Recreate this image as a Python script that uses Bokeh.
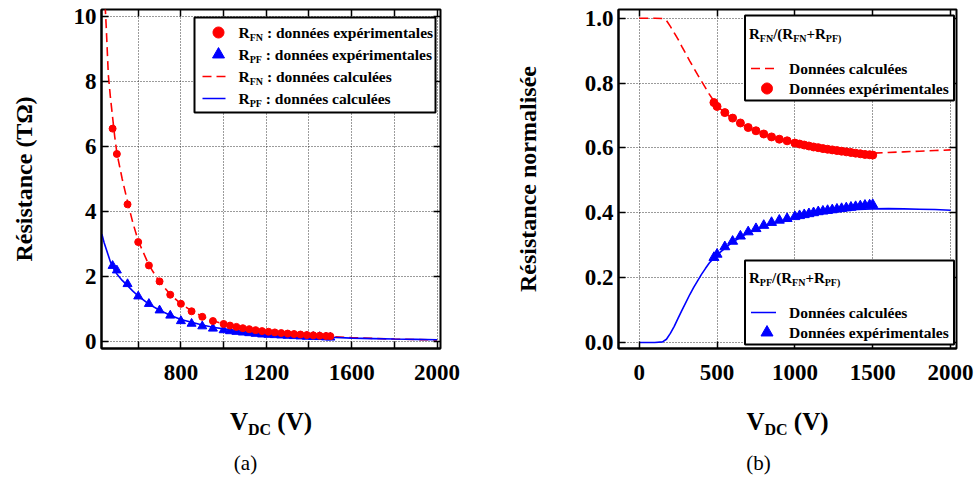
import numpy as np
from bokeh.plotting import figure
from bokeh.layouts import row, column
from bokeh.models import (LinearAxis, FixedTicker, Label, BoxAnnotation,
                          PolyAnnotation, Arrow, Range1d)
from bokeh.embed import file_html
from bokeh.resources import INLINE

# ---------------- data ----------------
# experimental voltages (V)
v_exp = [480, 500, 550, 600, 650, 700, 750, 800, 850, 900, 950, 1000,
         1030, 1060, 1090, 1120, 1150, 1180, 1210, 1240, 1270, 1300, 1330,
         1360, 1390, 1420, 1450, 1480, 1500]
# (a) experimental resistances (TOhm)
rfn_exp = [6.55, 5.77, 4.22, 3.06, 2.34, 1.85, 1.44, 1.16, 0.93, 0.76, 0.63, 0.54,
           0.49, 0.45, 0.41, 0.38, 0.35, 0.32, 0.30, 0.28, 0.26, 0.245, 0.23,
           0.215, 0.20, 0.19, 0.18, 0.17, 0.165]
rpf_exp = [2.33, 2.19, 1.77, 1.39, 1.16, 0.96, 0.80, 0.63, 0.55, 0.47, 0.40, 0.35,
           0.32, 0.30, 0.28, 0.26, 0.24, 0.22, 0.21, 0.20, 0.19, 0.18, 0.17,
           0.16, 0.15, 0.145, 0.14, 0.13, 0.125]
# (a) calculated curves
v_calc_a = [430, 440, 450, 460, 470, 480, 490, 500, 525, 550, 575, 600, 650, 700,
            750, 800, 850, 900, 950, 1000, 1100, 1200, 1300, 1400, 1500, 1600,
            1700, 1800, 1900, 2000]
rfn_calc = [12.5, 11.0, 9.7, 8.2, 7.5, 6.9, 6.3, 5.8, 5.0, 4.3, 3.65, 3.1, 2.35, 1.83,
            1.45, 1.16, 0.94, 0.77, 0.64, 0.54, 0.40, 0.30, 0.235, 0.19, 0.155, 0.12,
            0.095, 0.075, 0.06, 0.05]
rpf_calc = [3.3, 3.05, 2.85, 2.65, 2.45, 2.3, 2.18, 2.08, 1.88, 1.72, 1.55, 1.40, 1.15,
            0.96, 0.81, 0.68, 0.59, 0.51, 0.44, 0.39, 0.31, 0.245, 0.195, 0.16, 0.13,
            0.105, 0.09, 0.075, 0.065, 0.055]
# (b) experimental normalised resistances
nfn_exp = [0.740, 0.728, 0.709, 0.692, 0.677, 0.663, 0.653, 0.643, 0.634, 0.627,
           0.622, 0.615, 0.612, 0.609, 0.606, 0.603, 0.601, 0.598, 0.596, 0.594,
           0.592, 0.590, 0.588, 0.586, 0.584, 0.582, 0.580, 0.579, 0.578]
npf_exp = [0.262, 0.272, 0.295, 0.312, 0.328, 0.341, 0.351, 0.361, 0.370, 0.377,
           0.382, 0.388, 0.391, 0.394, 0.397, 0.400, 0.403, 0.405, 0.407, 0.409,
           0.411, 0.413, 0.415, 0.417, 0.419, 0.421, 0.423, 0.424, 0.425]
# (b) calculated curves
v_calc_b = [0, 50, 100, 150, 175, 200, 225, 250, 275, 300, 325, 350, 375, 400, 425,
            450, 475, 500, 550, 600, 700, 800, 900, 1000, 1100, 1200, 1300, 1400,
            1500, 1600, 1700, 1800, 1900, 2000]
nfn_calc = [1.0, 1.0, 1.0, 0.999, 0.993, 0.975, 0.955, 0.935, 0.912, 0.89, 0.868,
            0.847, 0.826, 0.806, 0.786, 0.766, 0.748, 0.730, 0.708, 0.690, 0.662,
            0.642, 0.627, 0.615, 0.605, 0.597, 0.590, 0.585, 0.584, 0.586, 0.588,
            0.590, 0.592, 0.594]
npf_calc = [0.0, 0.0, 0.0, 0.002, 0.01, 0.028, 0.05, 0.075, 0.1, 0.124, 0.148, 0.17,
            0.19, 0.21, 0.228, 0.245, 0.258, 0.27, 0.29, 0.31, 0.338, 0.358, 0.373,
            0.385, 0.394, 0.401, 0.406, 0.410, 0.412, 0.413, 0.412, 0.411, 0.410, 0.408]

# ticks
xticks_a = [600, 800, 1000, 1200, 1400, 1600, 1800, 2000]
xlabels_a = ["", "800", "", "1200", "", "1600", "", "2000"]
yticks_a = [0, 2, 4, 6, 8, 10]
ylabels_a = ["0", "2", "4", "6", "8", "10"]
xticks_b = [0, 500, 1000, 1500, 2000]
xlabels_b = ["0", "500", "1000", "1500", "2000"]
yticks_b = [0.0, 0.2, 0.4, 0.6, 0.8, 1.0]
ylabels_b = ["0.0", "0.2", "0.4", "0.6", "0.8", "1.0"]

FONT = "Liberation Serif"
RED = "#ff0000"
BLUE = "#0000ff"

# Times/Liberation Serif Bold advance widths (em)
W = {' ': 0.25, '(': 0.333, ')': 0.333, '+': 0.57, '/': 0.278, ':': 0.333,
     'R': 0.722, 'F': 0.611, 'N': 0.722, 'P': 0.611, 'V': 0.722, 'D': 0.722, 'C': 0.722}


def tw(s, size):
    return sum(W.get(c, 0.5) for c in s) * size


def rich(p, x, yc, parts, size=15, sub=10, style="bold"):
    """Text with subscripts; yc is the vertical middle of the main text."""
    for t, is_sub in parts:
        fs = sub if is_sub else size
        lead = len(t) - len(t.lstrip(" "))
        x += lead * W[" "] * fs
        t = t.lstrip(" ")
        yy = yc - 0.3 * size if is_sub else yc
        p.add_layout(Label(x=x, y=yy, x_units="screen", y_units="screen", text=t,
                           text_font=FONT, text_font_size=f"{fs}px",
                           text_font_style=style, text_color="black",
                           text_baseline="middle", text_align="left"))
        x += tw(t, fs)
    return x


def rich_width(parts, size, sub):
    w = 0
    for t, s in parts:
        w += tw(t, sub if s else size)
    return w


def box(p, l, r, t, b):
    p.add_layout(BoxAnnotation(left=l, right=r, top=t, bottom=b,
                               left_units="screen", right_units="screen",
                               top_units="screen", bottom_units="screen",
                               fill_color="white", fill_alpha=1.0,
                               line_color="black", line_width=2, line_alpha=1.0))


def disc(p, cx, cy, r, color):
    t = np.linspace(0, 2 * np.pi, 29)[:-1]
    p.add_layout(PolyAnnotation(xs=list(cx + r * np.cos(t)), ys=list(cy + r * np.sin(t)),
                                xs_units="screen", ys_units="screen",
                                fill_color=color, fill_alpha=1.0,
                                line_color=color, line_alpha=1.0, line_width=1))


def tri(p, cx, cy, s, color):
    h = s * 0.866
    p.add_layout(PolyAnnotation(xs=[cx - s / 2, cx + s / 2, cx],
                                ys=[cy - h / 3, cy - h / 3, cy + 2 * h / 3],
                                xs_units="screen", ys_units="screen",
                                fill_color=color, fill_alpha=1.0,
                                line_color=color, line_alpha=1.0, line_width=1))


def seg(p, x0, x1, y, color, dash="solid"):
    p.add_layout(Arrow(end=None, x_start=x0, y_start=y, x_end=x1, y_end=y,
                       start_units="screen", end_units="screen",
                       line_color=color, line_width=1.6, line_dash=dash))


TOP_H = 408


def make_fig(width, xr, yr, xt, xl, yt, yl, ylabel, mbl, mbr, mbt, mbb, ylab_standoff):
    p = figure(width=width, height=TOP_H, x_range=Range1d(*xr), y_range=Range1d(*yr),
               output_backend="svg", toolbar_location=None,
               min_border_left=mbl, min_border_right=mbr, min_border_top=mbt,
               min_border_bottom=mbb)
    p.outline_line_color = "black"
    p.outline_line_width = 2
    p.outline_line_alpha = 1.0
    xtick = FixedTicker(ticks=xt, minor_ticks=[])
    ytick = FixedTicker(ticks=yt, minor_ticks=[])
    p.xaxis.ticker = xtick
    p.yaxis.ticker = ytick
    p.xaxis.major_label_overrides = dict(zip(xt, xl))
    p.yaxis.major_label_overrides = dict(zip(yt, yl))
    for ax in p.axis:
        ax.axis_line_width = 2
        ax.axis_line_color = "black"
        ax.major_tick_in = 7
        ax.major_tick_out = 0
        ax.major_tick_line_width = 1.5
        ax.major_tick_line_color = "black"
        ax.minor_tick_line_color = None
        ax.major_label_text_font = FONT
        ax.major_label_text_font_size = "23px"
        ax.major_label_text_font_style = "bold"
        ax.major_label_text_color = "black"
    p.xaxis.major_label_standoff = 16
    p.yaxis.major_label_standoff = 5
    p.yaxis.axis_label = ylabel
    p.yaxis.axis_label_text_font = FONT
    p.yaxis.axis_label_text_font_size = "24px"
    p.yaxis.axis_label_text_font_style = "bold"
    p.yaxis.axis_label_text_color = "black"
    p.yaxis.axis_label_standoff = ylab_standoff
    for g in (p.xgrid, p.ygrid):
        g.grid_line_color = "#222222"
        g.grid_line_dash = "1 2"
        g.grid_line_width = 1
        g.grid_line_alpha = 0.9
    for loc, tk, ticks in (("above", xtick, xt), ("right", ytick, yt)):
        ax = LinearAxis(ticker=tk, major_label_text_font_size="0px",
                        major_label_overrides={t: "" for t in ticks},
                        major_label_standoff=0, major_tick_in=7, major_tick_out=0,
                        major_tick_line_width=1.5, minor_tick_line_color=None,
                        axis_line_color=None)
        p.add_layout(ax, loc)
    return p


# ---------------- panel (a) ----------------
p1 = make_fig(490, (428, 2016), (-0.215, 10.215), xticks_a, xlabels_a, yticks_a,
              ylabels_a, "Résistance (TΩ)", 101, 50, 9, TOP_H - 349, 34)
p1.line(v_calc_a, rfn_calc, line_color=RED, line_width=1.6, line_dash="9 5")
p1.line(v_calc_a, rpf_calc, line_color=BLUE, line_width=1.6)
p1.scatter(v_exp, rpf_exp, marker="triangle", size=9, color=BLUE)
p1.scatter(v_exp, rfn_exp, marker="circle", size=7, color=RED)

box(p1, 93, 334, 331, 236)
rows_a = [316, 294, 272, 250]
disc(p1, 117, rows_a[0], 5.5, RED)
tri(p1, 117, rows_a[1], 12, BLUE)
seg(p1, 101, 124, rows_a[2], RED, "9 5")
seg(p1, 101, 124, rows_a[3], BLUE)
rich(p1, 137, rows_a[0], [("R", False), ("FN", True), (" : données expérimentales", False)], size=15.5)
rich(p1, 137, rows_a[1], [("R", False), ("PF", True), (" : données expérimentales", False)], size=15.5)
rich(p1, 137, rows_a[2], [("R", False), ("FN", True), (" : données calculées", False)], size=15.5)
rich(p1, 137, rows_a[3], [("R", False), ("PF", True), (" : données calculées", False)], size=15.5)

# ---------------- panel (b) ----------------
p2 = make_fig(488, (-133, 2038), (-0.0185, 1.027), xticks_b, xlabels_b, yticks_b,
              ylabels_b, "Résistance normalisée", 128, 22, 9, TOP_H - 348, 41)
p2.line(v_calc_b, nfn_calc, line_color=RED, line_width=1.6, line_dash="9 5")
p2.line(v_calc_b, npf_calc, line_color=BLUE, line_width=1.6)
p2.scatter(v_exp, npf_exp, marker="triangle", size=10, color=BLUE)
p2.scatter(v_exp, nfn_exp, marker="circle", size=8, color=RED)

# legend 1
box(p2, 126.5, 335.5, 333, 248)
rich(p2, 130.5, 315, [("R", False), ("FN", True), ("/(R", False), ("FN", True),
                      ("+R", False), ("PF)", True)])
seg(p2, 132.5, 157.5, 280, RED, "9 5")
rich(p2, 170.5, 280, [("Données calculées", False)], size=15.5)
disc(p2, 148.5, 260, 5.5, RED)
rich(p2, 170.5, 260, [("Données expérimentales", False)], size=15.5)

# legend 2
box(p2, 126.5, 335.5, 88, 4)
rich(p2, 130.5, 71, [("R", False), ("PF", True), ("/(R", False), ("FN", True),
                     ("+R", False), ("PF)", True)])
seg(p2, 132.5, 157.5, 36, BLUE)
rich(p2, 170.5, 36, [("Données calculées", False)], size=15.5)
tri(p2, 148.5, 16, 12, BLUE)
rich(p2, 170.5, 16, [("Données expérimentales", False)], size=15.5)

# ---------------- x titles and captions (strip below both panels) ----------------
BOT_H = 71
q = figure(width=978, height=BOT_H, x_range=Range1d(0, 1), y_range=Range1d(0, 1),
           output_backend="svg", toolbar_location=None, min_border=0,
           x_axis_location=None, y_axis_location=None)
q.outline_line_color = None
q.grid.visible = False

xl_parts = [("V", False), ("DC", True), (" (V)", False)]
wtot = rich_width(xl_parts, 25, 16)
mid_y = BOT_H - (421 - TOP_H)
rich(q, 270.5 - wtot / 2, mid_y, xl_parts, size=25, sub=16)
rich(q, 787.0 - wtot / 2, mid_y, xl_parts, size=25, sub=16)
for cx, cap in ((245, "(a)"), (758, "(b)")):
    q.add_layout(Label(x=cx, y=BOT_H - (462 - TOP_H), x_units="screen", y_units="screen",
                       text=cap, text_font=FONT, text_font_size="21px",
                       text_color="black", text_align="center", text_baseline="middle"))

layout = column(row(p1, p2), q)
open("out.html", "w").write(file_html(layout, INLINE))
